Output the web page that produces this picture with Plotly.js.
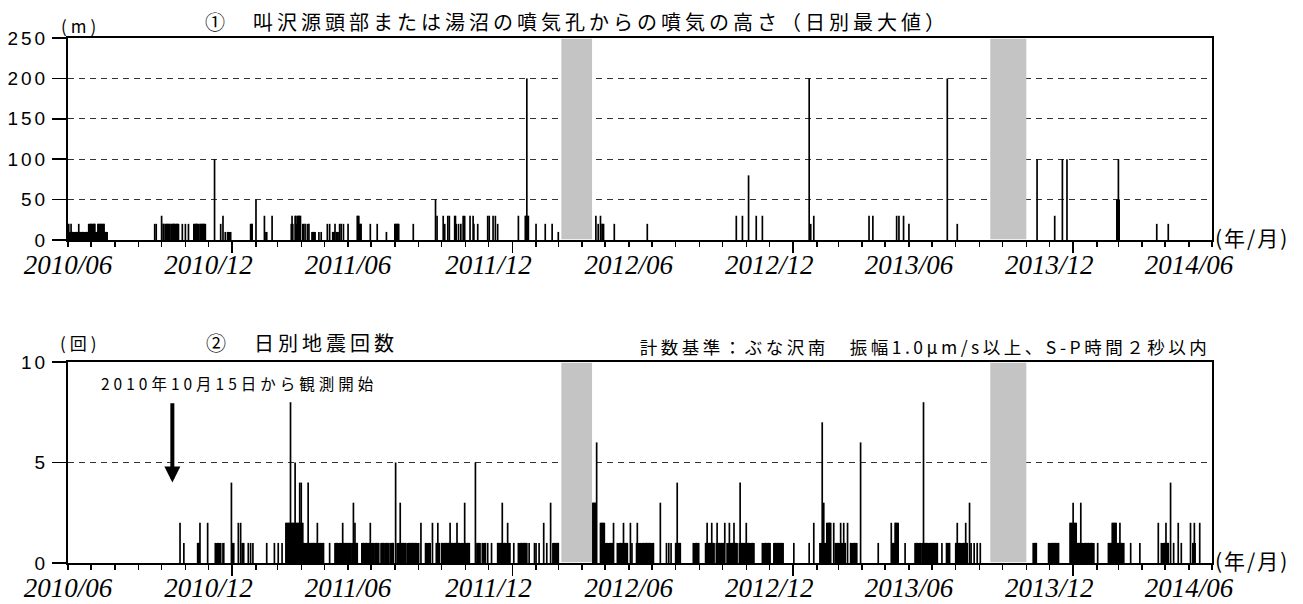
<!DOCTYPE html>
<html>
<head>
<meta charset="utf-8">
<script src="https://cdn.plot.ly/plotly-3.0.1.min.js"></script>
<style>
  body { margin: 0; background: #fff; }
  #chart { width: 1303px; height: 604px; }
  g.annotation[data-index="0"] text { letter-spacing: 4px; }
  g.annotation[data-index="1"] text { letter-spacing: 4px; }
  g.annotation[data-index="2"] text { letter-spacing: 4px; }
  g.annotation[data-index="3"] text { letter-spacing: 4px; }
  g.annotation[data-index="4"] text { letter-spacing: 3.5px; }
  g.annotation[data-index="5"] text { letter-spacing: 4px; }
  g.annotation[data-index="6"] text { letter-spacing: 2px; }
  g.annotation[data-index="7"] text { letter-spacing: 2px; }
  g.ytick text, g.y2tick text { letter-spacing: 3px; }
</style>
</head>
<body>
<div id="chart"></div>
<script>
// ---------------- DATA ----------------
// Day numbers are counted from BASE_DATE (day 0 = 2010-06-01).
const BASE_DATE = '2010-06-01';
const X_END = '2014-07-01';

// x-axis labels (year/month) and the year boundaries
const tickLabels = ['2010/06', '2010/12', '2011/06', '2011/12', '2012/06', '2012/12', '2013/06', '2013/12', '2014/06'];
const yearStarts = ['2011-01-01', '2012-01-01', '2013-01-01', '2014-01-01'];

// periods without observation (grey bands)
const gapStart = ['2012-03-05', '2013-09-15'];
const gapEnd = ['2012-04-14', '2013-11-01'];

// start of the seismic observation
const obsStart = '2010-10-15';

// (1) plume height, daily maximum (m): [first day, last day, height]
const plume2010 = [
  [1, 51, 10], [1, 1, 20], [4, 4, 20], [14, 14, 20], [27, 35, 20], [39, 47, 20],
  [113, 113, 20], [115, 115, 20], [122, 122, 30], [124, 125, 20], [127, 133, 20], [135, 144, 20],
  [149, 149, 20], [153, 153, 20], [157, 157, 20], [164, 170, 20], [172, 179, 20],
  [191, 191, 100], [199, 199, 20], [202, 202, 30], [205, 205, 10], [208, 212, 10]
];
const plume2011 = [
  [238, 240, 20], [245, 245, 50], [256, 256, 30], [258, 259, 10], [266, 266, 30],
  [291, 293, 20], [292, 292, 30], [296, 297, 30], [298, 298, 20], [299, 303, 30],
  [306, 307, 20], [309, 309, 20], [312, 312, 20], [314, 314, 20], [318, 322, 10],
  [327, 327, 10], [330, 330, 10], [338, 338, 20], [341, 341, 20], [345, 347, 10],
  [348, 348, 20], [350, 352, 10], [354, 354, 20], [356, 356, 20], [359, 359, 20], [365, 365, 20],
  [377, 379, 30], [380, 382, 20], [394, 394, 20], [403, 403, 20], [415, 415, 10],
  [426, 431, 20], [450, 450, 20], [479, 479, 50], [481, 481, 30], [489, 489, 30],
  [491, 491, 20], [495, 495, 30], [497, 497, 30], [504, 505, 30], [506, 506, 20],
  [509, 509, 20], [512, 512, 20], [515, 515, 30], [517, 517, 30], [524, 524, 30],
  [528, 528, 30], [529, 529, 20], [534, 534, 20], [547, 547, 30], [549, 549, 30],
  [554, 554, 30], [557, 557, 30], [560, 560, 20]
];
const plume2012 = [
  [587, 587, 30], [596, 597, 30], [598, 598, 200], [599, 600, 30], [610, 610, 20],
  [622, 622, 20], [631, 631, 20], [639, 639, 10], [688, 688, 30], [691, 691, 20],
  [694, 694, 30], [696, 698, 20], [712, 712, 20], [755, 755, 20], [871, 871, 30],
  [879, 879, 30], [887, 887, 80], [897, 897, 30], [905, 905, 30]
];
const plume2013 = [
  [966, 966, 200], [968, 968, 20], [972, 972, 30], [1044, 1044, 30], [1049, 1049, 30],
  [1080, 1080, 30], [1083, 1083, 30], [1089, 1089, 30], [1096, 1096, 20],
  [1146, 1146, 200], [1159, 1159, 20], [1263, 1263, 100], [1286, 1286, 30],
  [1296, 1296, 100], [1302, 1302, 100]
];
const plume2014 = [
  [1367, 1370, 50], [1369, 1369, 100], [1419, 1419, 20], [1434, 1434, 20]
];

// (2) daily number of earthquakes: [first day, last day, count]
const quake2010 = [
  [146, 146, 2], [151, 151, 1], [169, 171, 1], [172, 172, 2], [182, 182, 2],
  [192, 199, 1], [202, 203, 1], [213, 213, 4]
];
const quake2011 = [
  [214, 216, 1], [222, 222, 2], [225, 225, 2], [227, 229, 1], [235, 235, 1],
  [238, 238, 1], [241, 241, 1], [259, 259, 1], [269, 269, 1], [274, 274, 1],
  [279, 279, 1], [284, 306, 2], [290, 290, 8], [296, 296, 5], [302, 302, 4],
  [304, 304, 4], [307, 333, 1], [313, 313, 4], [325, 325, 2], [341, 341, 1],
  [348, 368, 1], [358, 358, 2], [370, 377, 1], [372, 372, 3], [374, 374, 2],
  [383, 398, 1], [394, 394, 2], [400, 405, 1], [408, 412, 1], [414, 418, 1],
  [420, 424, 1], [427, 427, 5], [429, 440, 1], [433, 433, 3], [442, 457, 1],
  [460, 460, 2], [466, 472, 1], [475, 475, 2], [480, 484, 1], [482, 482, 2],
  [487, 511, 1], [498, 498, 2], [507, 507, 2], [511, 523, 1], [517, 517, 3],
  [531, 531, 5], [533, 537, 1], [540, 544, 1], [547, 547, 1], [552, 552, 1],
  [560, 576, 1], [566, 566, 3], [573, 573, 2]
];
const quake2012 = [
  [581, 581, 1], [587, 598, 1], [601, 601, 1], [608, 608, 1], [610, 610, 1],
  [614, 614, 1], [620, 620, 2], [624, 624, 1], [629, 629, 3], [632, 639, 1],
  [684, 688, 3], [689, 689, 6], [694, 699, 2], [700, 710, 1], [711, 711, 2],
  [716, 729, 1], [724, 724, 2], [733, 733, 2], [735, 735, 1], [741, 763, 1],
  [742, 742, 2], [772, 772, 3], [780, 780, 1], [783, 783, 1], [786, 786, 1],
  [792, 798, 1], [794, 794, 4], [815, 822, 1], [831, 842, 1], [833, 833, 2],
  [839, 839, 2], [845, 855, 1], [846, 846, 2], [856, 856, 2], [859, 872, 1],
  [862, 862, 2], [868, 868, 2], [875, 894, 1], [876, 876, 4], [884, 884, 2],
  [905, 915, 1], [920, 932, 1]
];
const quake2013 = [
  [946, 946, 1], [966, 966, 1], [972, 972, 2], [980, 987, 1], [983, 983, 7],
  [985, 985, 3], [988, 988, 1], [989, 994, 2], [998, 998, 2], [1000, 1013, 1],
  [1007, 1007, 2], [1011, 1011, 2], [1016, 1016, 2], [1020, 1028, 1], [1033, 1033, 6],
  [1056, 1056, 1], [1073, 1073, 2], [1075, 1077, 1], [1078, 1082, 2], [1091, 1091, 1],
  [1104, 1111, 1], [1113, 1133, 1], [1115, 1115, 8], [1139, 1139, 1], [1145, 1149, 1],
  [1157, 1172, 1], [1159, 1159, 2], [1170, 1170, 2], [1175, 1175, 3], [1177, 1177, 1],
  [1181, 1181, 1], [1185, 1185, 1], [1189, 1189, 1], [1258, 1262, 1], [1278, 1291, 1]
];
const quake2014 = [
  [1306, 1314, 2], [1310, 1310, 3], [1320, 1320, 3], [1315, 1337, 1], [1342, 1342, 1],
  [1356, 1376, 1], [1361, 1366, 2], [1371, 1371, 2], [1385, 1385, 1], [1397, 1397, 1],
  [1421, 1421, 2], [1425, 1434, 1], [1431, 1431, 2], [1437, 1437, 4], [1441, 1441, 1],
  [1447, 1447, 2], [1451, 1451, 1], [1463, 1463, 2], [1466, 1469, 1], [1468, 1468, 2],
  [1475, 1475, 2]
];

// ---------------- BUILD ----------------
const DAY_MS = 86400000;
const baseMs = Date.parse(BASE_DATE + 'T00:00:00Z');
function dayToDate(d) { return new Date(baseMs + d * DAY_MS).toISOString().slice(0, 10); }
function expandRuns(groups) {
  const byDay = new Map();
  groups.forEach(g => g.forEach(([a, b, v]) => {
    for (let d = a; d <= b; d++) byDay.set(d, Math.max(byDay.get(d) || 0, v));
  }));
  const days = [...byDay.keys()].sort((p, q) => p - q);
  return { x: days.map(dayToDate), y: days.map(d => byDay.get(d)) };
}
const plume = expandRuns([plume2010, plume2011, plume2012, plume2013, plume2014]);
const quake = expandRuns([quake2010, quake2011, quake2012, quake2013, quake2014]);
const labelDates = tickLabels.map(t => t.replace('/', '-') + '-01');

// pixel helpers for layout text placement (plot area 68..1212 x 38..563)
const PL = 68, PR = 1212, PT = 38, PB = 563;
const px = v => (v - PL) / (PR - PL);
const py = v => (PB - v) / (PB - PT);

const barWidth = 2.2 * DAY_MS;
const traces = [
  { type: 'bar', x: plume.x, y: plume.y, xaxis: 'x', yaxis: 'y', width: barWidth,
    marker: { color: '#000', line: { width: 0 } }, hoverinfo: 'skip' },
  { type: 'bar', x: quake.x, y: quake.y, xaxis: 'x2', yaxis: 'y2', width: barWidth,
    marker: { color: '#000', line: { width: 0 } }, hoverinfo: 'skip' },
  { type: 'scatter', mode: 'markers', x: [], y: [], xaxis: 'x3', yaxis: 'y', hoverinfo: 'skip' },
  { type: 'scatter', mode: 'markers', x: [], y: [], xaxis: 'x4', yaxis: 'y2', hoverinfo: 'skip' }
];

const xRange = [BASE_DATE, X_END];
const tickFontX = { family: 'Liberation Serif', size: 27, style: 'italic', color: '#000' };
const tickFontY = { family: 'Liberation Sans', size: 19, color: '#000' };
// main axes: frame line + year/month labels
function mainX(anchor) {
  return {
    type: 'date', range: xRange, anchor: anchor,
    tickmode: 'array', tickvals: labelDates, ticktext: tickLabels,
    ticks: '', showline: true, linewidth: 2, linecolor: '#000', mirror: true,
    showgrid: false, zeroline: false, tickfont: tickFontX, fixedrange: true
  };
}
// overlay axes: monthly short ticks, long ticks at each January
function janX(over, anchor) {
  return {
    type: 'date', range: xRange, overlaying: over, anchor: anchor,
    tickmode: 'array', tickvals: yearStarts, ticks: 'outside', ticklen: 12,
    tickwidth: 1.5, tickcolor: '#000', showticklabels: false,
    minor: { ticks: 'outside', ticklen: 6, tickwidth: 1.5, tickcolor: '#000',
             dtick: 'M1', tick0: BASE_DATE, showgrid: false },
    showline: false, showgrid: false, zeroline: false, fixedrange: true
  };
}
function mainY(domain, range, vals) {
  return {
    domain: domain, range: range, tickmode: 'array', tickvals: vals,
    ticks: 'outside', ticklen: 14, tickwidth: 1.5, tickcolor: '#000',
    showline: true, linewidth: 2, linecolor: '#000', mirror: true,
    showgrid: true, gridcolor: '#333', gridwidth: 1, griddash: '6px,5px',
    zeroline: false, tickfont: tickFontY, fixedrange: true
  };
}

const shapes = [];
['x', 'x2'].forEach((xr, i) => {
  gapStart.forEach((s, k) => {
    shapes.push({ type: 'rect', xref: xr, yref: (i === 0 ? 'y' : 'y2') + ' domain',
      x0: s, x1: gapEnd[k], y0: 0.004, y1: 0.996, fillcolor: '#c4c4c4',
      line: { width: 0 }, layer: 'above' });
  });
});

const cjk = 'Noto Sans CJK JP';
function label(text, x, y, size) {
  return { text: text, xref: 'paper', yref: 'paper', x: px(x), y: py(y),
    xanchor: 'center', yanchor: 'middle', showarrow: false,
    font: { family: cjk, size: size, color: '#000' } };
}
const annotations = [
  label('(m)', 80, 26, 17),
  label('①　叫沢源頭部または湯沼の噴気孔からの噴気の高さ（日別最大値）', 577, 22, 20),
  label('(回)', 80, 343, 17),
  label('②　日別地震回数', 302, 343, 20),
  label('計数基準：ぶな沢南　振幅1.0μm/s以上、S-P時間２秒以内', 925, 346, 17.5),
  label('2010年10月15日から観測開始', 239, 383, 15.5),
  label('(年/月)', 1252, 237, 21),
  label('(年/月)', 1252, 560, 21),
  { text: ' ', xref: 'x2', yref: 'y2', x: obsStart, y: 4, axref: 'x2', ayref: 'y2',
    ax: obsStart, ay: 8.05, showarrow: true, arrowhead: 2, arrowsize: 0.8, arrowwidth: 4,
    arrowcolor: '#000', standoff: 0, font: { size: 1 } }
];

const layout = {
  width: 1303, height: 604,
  margin: { l: PL, r: 1303 - PR, t: PT, b: 604 - PB, pad: 0 },
  paper_bgcolor: '#fff', plot_bgcolor: '#fff',
  showlegend: false, hovermode: false, barmode: 'overlay',
  xaxis: mainX('y'),
  yaxis: mainY([py(240), 1], [0, 250], [0, 50, 100, 150, 200, 250]),
  xaxis2: mainX('y2'),
  yaxis2: mainY([0, py(362)], [0, 10], [0, 5, 10]),
  xaxis3: janX('x', 'y'),
  xaxis4: janX('x2', 'y2'),
  shapes: shapes,
  annotations: annotations
};

Plotly.newPlot('chart', traces, layout, { staticPlot: true, displayModeBar: false });
</script>
</body>
</html>
